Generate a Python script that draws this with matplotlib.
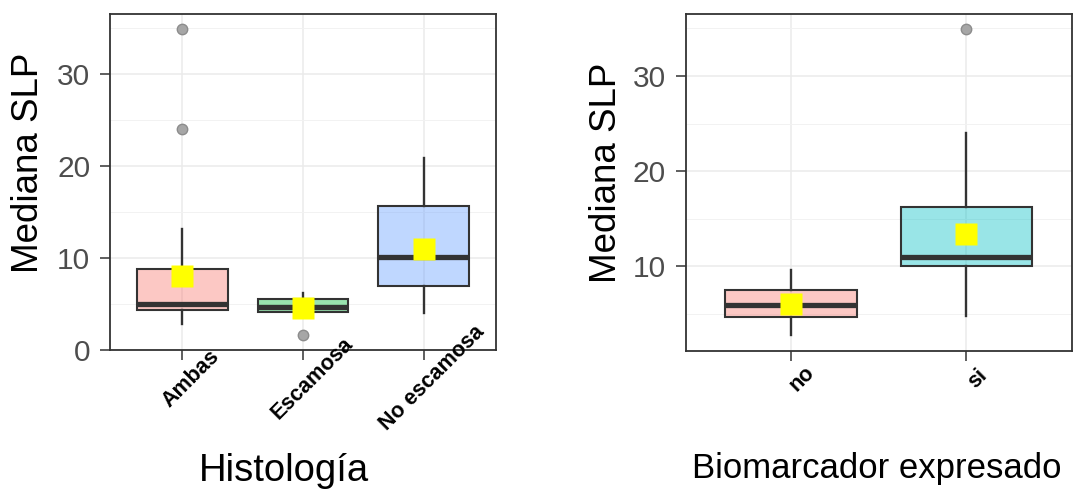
import matplotlib.pyplot as plt
from matplotlib.colors import to_rgba
from matplotlib.transforms import ScaledTranslation

plt.rcParams['font.family'] = ['Liberation Sans', 'DejaVu Sans']

# Panel 1: Histología
hist_cats = ['Ambas', 'Escamosa', 'No escamosa']
hist_colors = ['#F8766D', '#00BA38', '#619CFF']
hist_q1 = [4.3, 4.15, 7.0]
hist_med = [5.0, 4.65, 10.1]
hist_q3 = [8.85, 5.5, 15.7]
hist_lo = [2.85, 4.05, 4.05]
hist_hi = [13.15, 6.2, 20.9]
hist_mean = [8.0, 4.6, 11.0]
hist_out = [[24.05, 34.9], [1.65], []]

# Panel 2: Biomarcador expresado
bio_cats = ['no', 'si']
bio_colors = ['#F8766D', '#00BFC4']
bio_q1 = [4.65, 10.0]
bio_med = [5.9, 10.95]
bio_q3 = [7.55, 16.2]
bio_lo = [2.75, 4.75]
bio_hi = [9.6, 24.05]
bio_mean = [6.05, 13.4]
bio_out = [[], [34.9]]

dark = '#333333'


def draw_panel(ax, cats, colors, q1, med, q3, lo, hi, mean, out, dx_px, dy_px):
    stats = []
    for i in range(len(cats)):
        stats.append(dict(label=cats[i], q1=q1[i], med=med[i], q3=q3[i],
                          whislo=lo[i], whishi=hi[i], fliers=out[i], mean=mean[i]))
    pos = list(range(1, len(cats) + 1))
    bp = ax.bxp(stats, positions=pos, widths=0.75, patch_artist=True,
                showcaps=False, showmeans=True,
                boxprops=dict(edgecolor=dark, linewidth=1.5),
                whiskerprops=dict(color=dark, linewidth=1.7),
                medianprops=dict(color=dark, linewidth=3.8, solid_capstyle='butt'),
                flierprops=dict(marker='o', markerfacecolor='#A6A6A6',
                                markeredgecolor='#8C8C8C', markersize=7.5),
                meanprops=dict(marker='s', markerfacecolor='yellow',
                               markeredgecolor='none', markersize=15.5))
    for patch, c in zip(bp['boxes'], colors):
        patch.set_facecolor(to_rgba(c, 0.4))

    ax.set_yticks([0, 10, 20, 30])
    ax.set_yticks([5, 15, 25, 35], minor=True)
    ax.set_xticks(pos)
    ax.set_xticklabels([])
    # rotated category labels, centred a bit right of / below each tick
    off = ScaledTranslation(dx_px / 100, -dy_px / 100, ax.figure.dpi_scale_trans)
    for p, c in zip(pos, cats):
        ax.text(p, 0, c, transform=ax.get_xaxis_transform() + off,
                rotation=45, ha='center', va='center', rotation_mode='anchor',
                fontweight='bold', fontsize=15.5, color='black')

    # ggplot-like 5% expansion, set after ticks so they don't widen it
    allv = lo + hi + [v for o in out for v in o]
    vmin, vmax = min(allv), max(allv)
    r = vmax - vmin
    ax.set_ylim(vmin - 0.05 * r, vmax + 0.05 * r)
    ax.set_xlim(0.4, len(cats) + 0.6)

    ax.set_axisbelow(True)
    ax.grid(which='major', color='#EBEBEB', linewidth=1.1)
    ax.grid(which='minor', axis='y', color='#F2F2F2', linewidth=0.7)
    ax.tick_params(axis='y', which='major', length=7.2, width=1.1, color=dark,
                   labelsize=21.5, labelcolor='#4D4D4D', pad=7)
    ax.tick_params(axis='x', which='major', length=7.2, width=1.1, color=dark)
    ax.tick_params(which='minor', length=0)
    for s in ax.spines.values():
        s.set_color(dark)
        s.set_linewidth(1.3)


fig = plt.figure(figsize=(10.83, 4.94), dpi=100)
ax1 = fig.add_axes([0.1016, 0.2915, 0.3564, 0.680])
ax2 = fig.add_axes([0.6331, 0.2901, 0.3564, 0.6816])

draw_panel(ax1, hist_cats, hist_colors, hist_q1, hist_med, hist_q3,
           hist_lo, hist_hi, hist_mean, hist_out, 9, 28.5)
draw_panel(ax2, bio_cats, bio_colors, bio_q1, bio_med, bio_q3,
           bio_lo, bio_hi, bio_mean, bio_out, 11, 28)

fig.text(0.0259, 0.671, 'Mediana SLP', rotation=90, ha='center', va='center', fontsize=26.5)
fig.text(0.5602, 0.6508, 'Mediana SLP', rotation=90, ha='center', va='center', fontsize=26.5)
fig.text(0.2618, 0.0263, 'Histología', ha='center', va='baseline', fontsize=27.5)
fig.text(0.8095, 0.0318, 'Biomarcador expresado', ha='center', va='baseline', fontsize=25)

fig.savefig('out.png', dpi=100)
